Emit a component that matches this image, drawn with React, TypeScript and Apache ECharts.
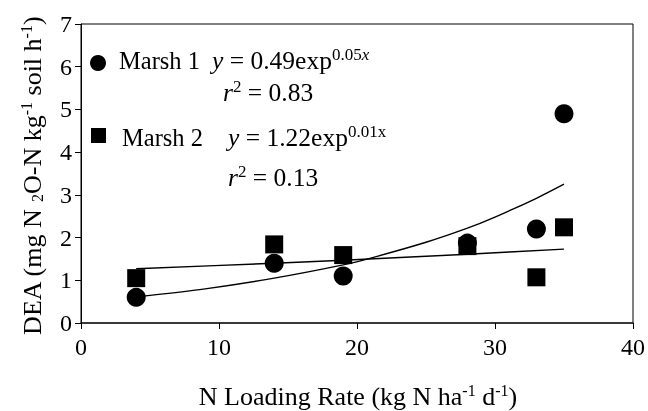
import { useEffect, useRef } from 'react';
import * as echarts from 'echarts';

const loadingRates = [4, 14, 19, 28, 33, 35];
const marsh1DEA = [0.6, 1.4, 1.1, 1.87, 2.2, 4.9];
const marsh2DEA = [1.05, 1.84, 1.59, 1.8, 1.07, 2.24];
const fit1X = [4, 9, 14, 19, 21, 25, 28, 30, 33, 35];
const fit1Y = [0.61, 0.8, 1.05, 1.36, 1.52, 1.89, 2.22, 2.48, 2.92, 3.25];
const fit2X = [4, 14, 19, 28, 35];
const fit2Y = [1.27, 1.4, 1.47, 1.61, 1.73];

const FONT = '"Liberation Serif", "Times New Roman", serif';

const pairs = (xs: number[], ys: number[]) => xs.map((x, i) => [x, ys[i]]);

export default function App() {
  const ref = useRef<HTMLDivElement>(null);
  useEffect(() => {
    if (!ref.current) return;
    const chart = echarts.init(ref.current, undefined, { renderer: 'svg' });
    const mk = (size: number, supSize: number, lh: number) => ({
      i: { fontFamily: FONT, fontSize: size, fontStyle: 'italic', fill: '#000', color: '#000', lineHeight: lh },
      n: { fontFamily: FONT, fontSize: size, fill: '#000', color: '#000', lineHeight: lh },
      sup: { fontFamily: FONT, fontSize: supSize, fill: '#000', color: '#000', verticalAlign: 'top', lineHeight: supSize },
      supi: { fontFamily: FONT, fontSize: supSize, fontStyle: 'italic', fill: '#000', color: '#000', verticalAlign: 'top', lineHeight: supSize },
      sub: { fontFamily: FONT, fontSize: supSize, fill: '#000', color: '#000', verticalAlign: 'bottom', lineHeight: supSize },
    });
    const richLegend = mk(24.5, 16, 28);
    const richEq = mk(25.5, 17, 29);
    const richTitle = mk(26, 16, 27);
    const txt = (x: number, y: number, text: string, rich: any) => ({
      type: 'text',
      x,
      y,
      style: { text, font: `24px ${FONT}`, fill: '#000', rich, align: 'left', verticalAlign: 'middle' },
    });
    chart.setOption({
      animation: false,
      grid: { left: 81, right: 12, top: 24, bottom: 88, show: true, borderColor: '#000', borderWidth: 1 },
      xAxis: {
        type: 'value',
        min: 0,
        max: 40,
        interval: 10,
        axisLine: { show: true, onZero: false, lineStyle: { color: '#222', width: 1.5 } },
        axisTick: { show: true, inside: false, length: 6, lineStyle: { color: '#000' } },
        axisLabel: { color: '#000', fontFamily: FONT, fontSize: 24, margin: 12 },
        splitLine: { show: false },
      },
      yAxis: {
        type: 'value',
        min: 0,
        max: 7,
        interval: 1,
        axisLine: { show: true, onZero: false, lineStyle: { color: '#000', width: 1 } },
        axisTick: { show: true, inside: false, length: 6, lineStyle: { color: '#000' } },
        axisLabel: { color: '#000', fontFamily: FONT, fontSize: 24, margin: 9 },
        splitLine: { show: false },
      },
      series: [
        {
          type: 'line',
          data: pairs(fit1X, fit1Y),
          smooth: 0.3,
          symbol: 'none',
          lineStyle: { color: '#000', width: 1.4 },
          z: 1,
        },
        {
          type: 'line',
          data: pairs(fit2X, fit2Y),
          smooth: 0.3,
          symbol: 'none',
          lineStyle: { color: '#000', width: 1.4 },
          z: 1,
        },
        {
          type: 'scatter',
          name: 'Marsh 2',
          data: pairs(loadingRates, marsh2DEA),
          symbol: 'rect',
          symbolSize: 18,
          itemStyle: { color: '#000', opacity: 1 },
          z: 2,
        },
        {
          type: 'scatter',
          name: 'Marsh 1',
          data: pairs(loadingRates, marsh1DEA),
          symbol: 'circle',
          symbolSize: 19,
          itemStyle: { color: '#000', opacity: 1 },
          z: 3,
        },
      ],
      graphic: [
        { type: 'circle', shape: { cx: 98, cy: 63, r: 8 }, style: { fill: '#000' } },
        { type: 'rect', shape: { x: 91, y: 128, width: 15, height: 15 }, style: { fill: '#000' } },
        txt(119, 60, '{n|Marsh 1}', richLegend),
        txt(212, 60, '{i|y}{n| = 0.49exp}{sup|0.05}{supi|x}', richEq),
        txt(223, 92, '{i|r}{sup|2}{n| = 0.83}', richEq),
        txt(122, 137, '{n|Marsh 2}', richLegend),
        txt(228, 137, '{i|y}{n| = 1.22exp}{sup|0.01x}', richEq),
        txt(228, 177, '{i|r}{sup|2}{n| = 0.13}', richEq),
        {
          type: 'text',
          x: 358,
          y: 396,
          style: {
            text: '{n|N Loading Rate (kg N ha}{sup|-1}{n| d}{sup|-1}{n|)}',
            font: `26px ${FONT}`,
            fill: '#000',
            rich: richTitle,
            align: 'center',
            verticalAlign: 'middle',
          },
        },
        {
          type: 'text',
          x: 32,
          y: 176,
          rotation: Math.PI / 2,
          style: {
            text: '{n|DEA (mg N }{sub|2}{n|O-N kg}{sup|-1}{n| soil h}{sup|-1}{n|)}',
            font: `26px ${FONT}`,
            fill: '#000',
            rich: richTitle,
            align: 'center',
            verticalAlign: 'middle',
          },
        },
      ],
    });
    return () => chart.dispose();
  }, []);
  return <div ref={ref} style={{ position: 'fixed', left: 0, top: 0, width: 648, height: 411 }} />;
}
